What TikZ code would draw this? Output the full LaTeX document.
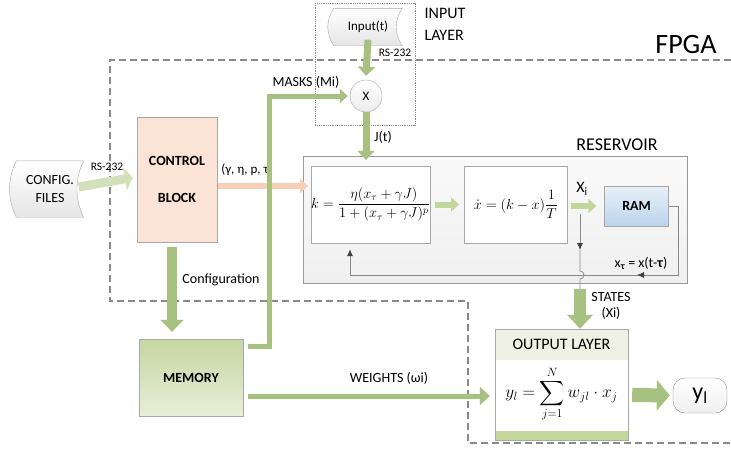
\documentclass[tikz,border=0pt]{standalone}
\usepackage{amsmath}
\usepackage{bm}
\usepackage{xcolor}
\usepackage[no-math]{fontspec}
\setmainfont{Carlito}
\usepackage{tikz}
\usetikzlibrary{positioning,arrows.meta,calc,backgrounds}
\definecolor{olivegreen}{HTML}{A6C180}
\definecolor{midgreen}{HTML}{C3D69B}
\definecolor{palegreen}{HTML}{D3E0BA}
\definecolor{peach}{HTML}{FBE4D5}
\definecolor{peacharrow}{HTML}{F7CFB6}
\definecolor{memtop}{HTML}{C6D6A2}
\definecolor{membot}{HTML}{E8EED9}
\definecolor{ramtop}{HTML}{E8F1F9}
\definecolor{rambot}{HTML}{BCD3EA}
\definecolor{outhead}{HTML}{EEF1E3}
\definecolor{linegray}{HTML}{8A8A8A}
\definecolor{boxgray}{HTML}{A8A8A8}
\tikzset{block/.style={draw=boxgray,inner sep=0pt,align=center},
  txt/.style={font=\fontsize{14}{17}\selectfont,inner sep=1pt,align=center},
  bold/.style={font=\fontsize{14}{17}\selectfont\bfseries},
  small/.style={font=\fontsize{11.5}{13}\selectfont,inner sep=1pt},
  fat/.style={draw=olivegreen,line width=#1},
  tape/.style={draw=boxgray,top color=white,bottom color=gray!20},
  wire/.style={draw=linegray,line width=0.8pt},
  tip/.style={-{Latex[length=7pt,width=6pt,color=black!75]}},}

\begin{document}
\begin{tikzpicture}[x=1pt,y=-1pt]
    \useasboundingbox (0,0) rectangle (731,453);

    \draw[linegray,line width=1.1pt,dash pattern=on 7pt off 4pt]
    (731,60) -- (110,60) -- (110,301) -- (468,301) -- (468,443) -- (731,443);
    \node[font=\fontsize{28}{30}\selectfont] (fpga) at (686,45) {FPGA};

    \draw[linegray,densely dotted,line width=0.8pt] (315,3) rectangle (415,125);
    \node[txt,font=\fontsize{16}{22}\selectfont,align=left] (inlayer) at (445,24) {INPUT\\LAYER};

    \node[txt,minimum width=68pt,minimum height=37pt,inner sep=0pt,font=\fontsize{13}{15}\selectfont] (inp) at (368,27) {Input(t)};
    \node[txt,minimum width=67pt,minimum height=56pt,inner sep=0pt] (conf) at (50,189) {CONFIG.\\[1pt]FILES};
    \begin{scope}[on background layer]
    \draw[tape] (inp.north west) -- (inp.north east) .. controls +(-8,12) and +(-8,-12) .. (inp.south east)
    -- (inp.south west) .. controls +(-8,-12) and +(-8,12) .. (inp.north west);
    \draw[tape] (conf.north west) -- (conf.north east) .. controls +(-9,18) and +(-9,-18) .. (conf.south east)
    -- (conf.south west) .. controls +(-9,-18) and +(-9,18) .. (conf.north west);
    \end{scope}

    \node[circle,draw=boxgray,top color=white,bottom color=gray!15,minimum size=32pt,inner sep=0pt,
    font=\fontsize{13}{15}\selectfont] (mult) at (366,96) {X};

    \node[block,fill=peach,minimum width=80pt,minimum height=125pt,bold] (ctrl) at (177,179.5) {CONTROL\\[20pt]BLOCK};
    \node[block,top color=memtop,bottom color=membot,minimum width=104pt,minimum height=77pt,bold] (mem) at (191,377.5) {MEMORY};

    \node[block,draw=gray!80,top color=gray!4,bottom color=gray!12,minimum width=384pt,minimum height=127pt] (res) at (495,219.5) {};
    \node[font=\fontsize{18}{20}\selectfont] (reslabel) at (617,145) {RESERVOIR};
    \node[block,fill=white,minimum width=115pt,minimum height=77pt,font=\fontsize{14}{17}\selectfont] (kbox) at (370.5,204.5)
    {$k=\dfrac{\eta(x_\tau+\gamma J)}{1+(x_\tau+\gamma J)^p}$};
    \node[block,fill=white,minimum width=103pt,minimum height=77pt,font=\fontsize{15}{18}\selectfont] (xbox) [right=34pt of kbox]
    {$\dot x=(k-x)\dfrac{1}{T}$};
    \node[block,top color=ramtop,bottom color=rambot,minimum width=64pt,minimum height=40pt,bold] (ram) [right=37pt of xbox, yshift=-1.5pt] {RAM};

    \node[block,fill=white,minimum width=133pt,minimum height=111pt] (out) at (561.5,384.5) {};
    \fill[outhead] (out.north west) rectangle ($(out.north east)+(0,31)$);
    \fill[midgreen] ($(out.south west)+(0,-9)$) rectangle (out.south east);
    \draw[boxgray] (out.north west) rectangle (out.south east);
    \node[font=\fontsize{16}{18}\selectfont,inner sep=1pt] (outtitle) at (561.5,344) {OUTPUT LAYER};
    \node[font=\fontsize{17}{20}\selectfont,inner sep=0pt] (outeq) at (561.5,394) {$\displaystyle y_l=\sum_{j=1}^{N} w_{jl}\cdot x_j$};

    \node[draw=linegray,rounded corners=12pt,minimum width=54pt,minimum height=35pt,top color=white,bottom color=gray!12,
    font=\fontsize{24}{26}\selectfont,inner sep=0pt] (yl) at (700,395.5) {y\textsubscript{l}};

    % labels
    \node[small] (rs1) at (107,167) {RS-232};
    \node[small] (rs2) at (395,53) {RS-232};
    \node[txt,font=\fontsize{13}{16}\selectfont] (params) at (247,170) {(γ, η, p, τ)};
    \node[txt] (cfglabel) at (221,280) {Configuration};
    \node[txt] (masks) at (306,82) {MASKS (Mi)};
    \node[txt] (jlabel) at (383,137) {J(t)};
    \node[txt,font=\fontsize{16}{18}\selectfont] (xi) at (582,189) {X\textsubscript{i}};
    \node[txt] (xtau) at (641,263) {x\textsubscript{\bfseries τ} = x(t-\textbf{τ})};
    \node[txt,font=\fontsize{14}{16}\selectfont] (states) at (611,306) {STATES\\(Xi)};
    \node[txt] (weights) at (389,378) {WEIGHTS (ωi)};

    % connectors
    \draw[palegreen,line width=9pt,-{Triangle[width=23pt,length=8pt]}] ($(conf.east)+(-5,-2)$) -- ($(ctrl.west)+(-4,-2)$);
    \draw[peacharrow,line width=6pt,-{Triangle[width=15pt,length=8pt]}] ($(ctrl.east)+(1,6.5)$) -- ($(res.west)+(5,-33.5)$);
    \draw[fat=10pt,-{Triangle[width=23pt,length=12pt]}] ($(ctrl.south)+(-5,5)$) -- ($(mem.north)+(-19,-7)$);
    \draw[fat=5pt,line join=miter,-{Triangle[width=14pt,length=8pt]}] ($(mem.north east)+(5,8)$) -| ($(mult.west)+(-80.5,0)$) -- ([xshift=-2pt]mult.west);
    \draw[fat=5pt,-{Triangle[width=18pt,length=10pt]}] ($(mem.east)+(5,18.5)$) -- ($(out.west)+(-5,11.5)$);
    \draw[fat=7pt,-{Triangle[width=17pt,length=9pt]}] ([yshift=6pt]inp.south) -- ([yshift=4pt]mult.north);
    \draw[fat=7pt,-{Triangle[width=17pt,length=9pt]}] (mult.south) -- ($(res.north -| mult)+(0,4)$);
    \draw[midgreen,line width=6pt,-{Triangle[width=14pt,length=8pt]}] ($(kbox.east)+(5,0)$) -- ($(xbox.west)+(-5,0)$);
    \draw[midgreen,line width=6pt,-{Triangle[width=14pt,length=8pt]}] ($(xbox.east)+(4,1.5)$) -- ($(ram.west)+(-8,0)$);

    \coordinate (tap) at (580,214);
    \coordinate (fbR) at (678,275);
    \coordinate (fbL) at (350,275);
    \draw[wire] (ram.east) -| (fbR) -- (fbL);
    \draw[wire,tip] (fbR) -- ($(fbR)+(-41,0)$);
    \draw[wire,tip,shorten >=6pt] (fbL) -- (kbox.south -| fbL);
    \draw[wire,tip] (tap) -- ($(tap)+(0,36)$);
    \draw[wire] ($(tap)+(0,36)$) -- ($(tap)+(0,57)$) arc[start angle=-90,end angle=90,radius=4] -- ($(tap)+(0,76)$);
    \draw[fat=12pt,-{Triangle[width=25pt,length=14pt]}] ($(tap)+(0,75)$) -- ($(tap |- out.north)$);
    \draw[fat=14pt,-{Triangle[width=30pt,length=13pt]}] ($(out.east)+(4,10.5)$) -- ($(yl.west)+(-3,0)$);
\end{tikzpicture}
\end{document}
